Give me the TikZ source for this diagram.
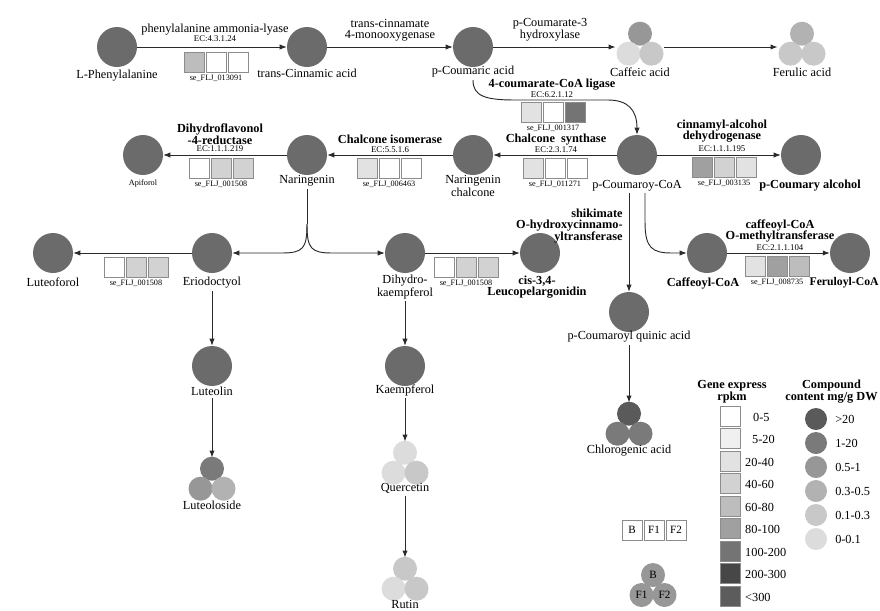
\documentclass[tikz,border=0pt]{standalone}
\usepackage{fontspec}
\setmainfont{Liberation Serif}
\usepackage{xcolor}
\usepackage{tikz}
\usetikzlibrary{positioning,shapes,arrows.meta}

\definecolor{cpdgray}{HTML}{6B6B6B}
\definecolor{linegray}{HTML}{2A2A2A}
\definecolor{boxedge}{HTML}{8C8C8C}
% gene expression levels
\definecolor{gA}{HTML}{FFFFFF}
\definecolor{gB}{HTML}{F0F0F0}
\definecolor{gC}{HTML}{E2E2E2}
\definecolor{gD}{HTML}{D2D2D2}
\definecolor{gE}{HTML}{BDBDBD}
\definecolor{gF}{HTML}{A0A0A0}
\definecolor{gG}{HTML}{747474}
\definecolor{gH}{HTML}{474747}
\definecolor{gI}{HTML}{5C5C5C}
% compound content levels
\definecolor{cA}{HTML}{5A5A5A}
\definecolor{cB}{HTML}{7A7A7A}
\definecolor{cC}{HTML}{979797}
\definecolor{cD}{HTML}{B2B2B2}
\definecolor{cE}{HTML}{C8C8C8}
\definecolor{cF}{HTML}{DCDCDC}

\tikzset{
  cpd/.style={circle, fill=cpdgray, minimum size=1.2cm, inner sep=0pt},
  ball/.style={circle, minimum size=0.72cm, inner sep=0pt},
  hull/.style={circle, minimum size=1.45cm, inner sep=0pt},
  gbox/.style={rectangle, draw=boxedge, line width=0.6pt, minimum size=0.6cm, inner sep=0pt},
  lbl/.style={font=\fontsize{10.5}{9}\selectfont, inner sep=2pt, align=center},
  enz/.style={font=\fontsize{10.5}{10}\selectfont\bfseries, inner sep=1pt, align=center},
  ec/.style={font=\fontsize{7.5}{8}\selectfont, inner sep=0pt},
  gid/.style={font=\fontsize{7}{8}\selectfont, inner sep=0pt},
  flow/.style={-{Latex[length=6pt,width=4.5pt]}, draw=linegray, line width=0.8pt},
}

% three expression boxes with the gene id below
\newcommand{\genetrio}[7]{%
  \node[gbox, fill=#4] (#1a) at (#2-22,#3) {};
  \node[gbox, fill=#5] (#1b) at (#2,#3) {};
  \node[gbox, fill=#6] (#1c) at (#2+22,#3) {};
  \node[gid] (#1id) at (#2,#3+16) {#7};
}
% three content circles (B, F1, F2) round their centroid
\newcommand{\cpdtrio}[6]{%
  \node[ball, fill=#4] (#1t) at (#2,#3-13.3) {};
  \node[ball, fill=#5] (#1l) at (#2-11.5,#3+6.7) {};
  \node[ball, fill=#6] (#1r) at (#2+11.5,#3+6.7) {};
  \node[hull] (#1) at (#2,#3) {};
}

\begin{document}
\begin{tikzpicture}[x=0.03cm, y=-0.03cm]

\path[use as bounding box, fill=white] (0,0) rectangle (880,610);

% Phenylpropanoid row
\node[cpd] (LPhe) at (117,47) {};
\node[lbl] (LPhelbl) at (117,76) {L-Phenylalanine};
\node[cpd] (tCin) at (307,47) {};
\node[lbl] (tCinlbl) at (307,73) {trans-Cinnamic acid};
\node[cpd] (pCou) at (473,47) {};
\node[lbl] (pCoulbl) at (473,72) {p-Coumaric acid};
\cpdtrio{Caf}{640}{47}{cC}{cF}{cE}
\node[lbl] (Caflbl) at (640,72) {Caffeic acid};
\cpdtrio{Fer}{802}{47}{cD}{cE}{cE}
\node[lbl] (Ferlbl) at (802,72) {Ferulic acid};

\draw[flow] (LPhe) -- (tCin);
\node[lbl, inner sep=0pt] (PAL) at (215,30) {phenylalanine ammonia-lyase};
\node[ec] (PALec) at (215,39) {EC:4.3.1.24};
\genetrio{PALg}{216}{62}{gE}{gA}{gA}{se\_FLJ\_013091}

\draw[flow] (tCin) -- (pCou);
\node[lbl, inner sep=0pt] (C4H) at (390,30) {trans-cinnamate\\4-monooxygenase};

\draw[flow] (pCou) -- (Caf);
\node[lbl, inner sep=0pt] (C3H) at (550,30) {p-Coumarate-3\\hydroxylase};
\draw[flow] (Caf) -- (Fer);

% Second row
\node[cpd] (Api) at (143,155) {};
\node[gid] (Apilbl) at (143,183) {Apiforol};
\node[cpd] (Nar) at (307,155) {};
\node[lbl] (Narlbl) at (307,181) {Naringenin};
\node[cpd] (NarCh) at (473,155) {};
\node[lbl] (NarChlbl) at (473,186) {Naringenin\\chalcone};
\node[cpd] (pCoA) at (637,155) {};
\node[lbl] (pCoAlbl) at (637,186) {p-Coumaroy-CoA};
\node[cpd] (pCAlc) at (801,155) {};
\node[enz] (pCAlclbl) at (810,186) {p-Coumary alcohol};

% 4CL
\draw[flow] (pCoulbl.south) .. controls (473,96) and (485,100) .. (515,100) -- (608,100)
  .. controls (628,100) and (637,110) .. (pCoA.north);
\node[enz] (FourCL) at (552,85) {4-coumarate-CoA ligase};
\node[ec] (FourCLec) at (552,95) {EC:6.2.1.12};
\genetrio{FCLg}{553}{112.5}{gC}{gA}{gG}{se\_FLJ\_001317}

\draw[flow] (pCoA) -- (NarCh);
\draw[flow] (NarCh) -- (Nar);
\draw[flow] (Nar) -- (Api);
\draw[flow] (pCoA) -- (pCAlc);

\node[enz] (DFR) at (220,134) {Dihydroflavonol\\-4-reductase};
\node[ec] (DFRec) at (220,149) {EC:1.1.1.219};
\genetrio{DFRg}{221}{168}{gA}{gD}{gD}{se\_FLJ\_001508}

\node[enz] (CHI) at (390,139) {Chalcone isomerase};
\node[ec] (CHIec) at (390,150) {EC:5.5.1.6};
\genetrio{CHIg}{389}{168}{gC}{gA}{gA}{se\_FLJ\_006463}

\node[enz] (CHS) at (556,140) {Chalcone~ synthase};
\node[ec] (CHSec) at (556,150) {EC:2.3.1.74};
\genetrio{CHSg}{555}{168}{gC}{gA}{gA}{se\_FLJ\_011271}

\node[enz] (CAD) at (722,131) {cinnamyl-alcohol\\dehydrogenase};
\node[ec] (CADec) at (722,149) {EC:1.1.1.195};
\genetrio{CADg}{724}{167.5}{gF}{gD}{gC}{se\_FLJ\_003135}

% Third row
\node[cpd] (Luf) at (53,253) {};
\node[lbl] (Luflbl) at (53,282) {Luteoforol};
\node[cpd] (Erio) at (212,253) {};
\node[lbl] (Eriolbl) at (212,283) {Eriodoctyol};
\node[cpd] (DHK) at (405,253) {};
\node[lbl] (DHKlbl) at (405,287) {Dihydro-\\kaempferol};
\node[cpd] (Leuco) at (540,253) {};
\node[enz] (Leucolbl) at (537,287) {cis-3,4-\\Leucopelargonidin};
\node[cpd] (CafCoA) at (707,253) {};
\node[enz] (CafCoAlbl) at (703,283) {Caffeoyl-CoA};
\node[cpd] (FerCoA) at (850,253) {};
\node[enz, anchor=east, font=\fontsize{10}{10}\selectfont\bfseries] (FerCoAlbl) at (880,283) {Feruloyl-CoA};

\coordinate (split) at (307,224);
\draw[draw=linegray, line width=0.8pt] (Narlbl) -- (split);
\draw[flow] (split) .. controls (307,249) and (311,253) .. (333,253) -- (DHK);
\draw[flow] (split) .. controls (307,249) and (303,253) .. (281,253) -- (Erio);

\draw[flow] (Erio) -- (Luf);
\genetrio{LufG}{136}{267}{gA}{gD}{gD}{se\_FLJ\_001508}
\draw[flow] (DHK) -- (Leuco);
\genetrio{LeuG}{466}{267}{gA}{gD}{gD}{se\_FLJ\_001508}

\draw[flow] (CafCoA) -- (FerCoA);
\node[enz] (CCoAOMT) at (780,231) {caffeoyl-CoA\\O-methyltransferase};
\node[ec] (CCoAOMTec) at (780,248) {EC:2.1.1.104};
\genetrio{OMTg}{777}{266}{gC}{gF}{gE}{se\_FLJ\_008735}

% branches below p-Coumaroy-CoA
\node[enz, anchor=east, align=right] (HCT) at (624,226) {shikimate\\O-hydroxycinnamo-\\yltransferase};
\coordinate (hctstart) at (629,193);
\coordinate (ccrstart) at (645,193);
\node[cpd] (pCQ) at (629,312) {};
\node[lbl] (pCQlbl) at (629,337) {p-Coumaroyl quinic acid};
\draw[flow] (hctstart) -- (pCQ);
\draw[flow] (ccrstart) -- (645,222) .. controls (645,248) and (652,253) .. (672,253) -- (CafCoA);
\cpdtrio{Chl}{629}{427}{cA}{cB}{cB}
\node[lbl] (Chllbl) at (629,451) {Chlorogenic acid};
\draw[flow] (pCQlbl) -- (Chl);

% Flavone / flavonol branches
\node[cpd] (Lut) at (212,366) {};
\node[lbl] (Lutlbl) at (212,391) {Luteolin};
\draw[flow] (Eriolbl) -- (Lut);
\cpdtrio{Lts}{212}{482}{cB}{cC}{cD}
\node[lbl] (Ltslbl) at (212,505) {Luteoloside};
\draw[flow] (Lutlbl) -- (Lts);

\node[cpd] (Kae) at (405,366) {};
\node[lbl] (Kaelbl) at (405,390) {Kaempferol};
\draw[flow] (DHKlbl) -- (Kae);
\cpdtrio{Que}{405}{466}{cF}{cF}{cE}
\node[lbl] (Quelbl) at (405,488) {Quercetin};
\draw[flow] (Kaelbl) -- (Que);
\cpdtrio{Rut}{405}{582}{cE}{cF}{cE}
\node[lbl] (Rutlbl) at (405,604) {Rutin};
\draw[flow] (Quelbl) -- (Rut);

% Legend: gene expression
\node[enz, font=\fontsize{10.5}{7.5}\selectfont\bfseries] (genehead) at (732,392) {Gene express\\rpkm};
\foreach \col/\lab/\lx [count=\i] in {gA/0-5/753, gB/5-20/752, gC/20-40/745, gD/40-60/745,
    gE/60-80/745, gF/80-100/745, gG/100-200/745, gH/200-300/745, gI/<300/745} {
  \node[gbox, fill=\col] (key\i) at (730, {416+22.5*(\i-1)}) {};
  \node[lbl, anchor=west, inner sep=0pt] (keylbl\i) at (\lx, {417+22.5*(\i-1)}) {\lab};
}

% Legend: compound content
\node[enz, anchor=east, font=\fontsize{10.5}{8}\selectfont\bfseries] (cpdhead) at (879,392) {Compound\\content mg/g DW};
\foreach \col/\lab [count=\i] in {cA/>20, cB/1-20, cC/0.5-1, cD/0.3-0.5, cE/0.1-0.3, cF/0-0.1} {
  \node[ball, minimum size=0.66cm, fill=\col] (dot\i) at (816, {419+24*(\i-1)}) {};
  \node[lbl, anchor=west, inner sep=0pt] (dotlbl\i) at (835, {419+24*(\i-1)}) {\lab};
}

% Legend: tissues
\foreach \t [count=\i] in {B,F1,F2} {
  \node[gbox, fill=white, font=\fontsize{9.5}{10}\selectfont] (tis\i) at ({632+22*(\i-1)}, 530) {\t};
}
\node[ball, fill=cC, font=\fontsize{9.5}{10}\selectfont] (legB) at (653,575) {B};
\node[ball, fill=cC, font=\fontsize{9.5}{10}\selectfont] (legF1) at (641.5,595) {F1};
\node[ball, fill=cC, font=\fontsize{9.5}{10}\selectfont] (legF2) at (664.5,595) {F2};

\end{tikzpicture}
\end{document}
